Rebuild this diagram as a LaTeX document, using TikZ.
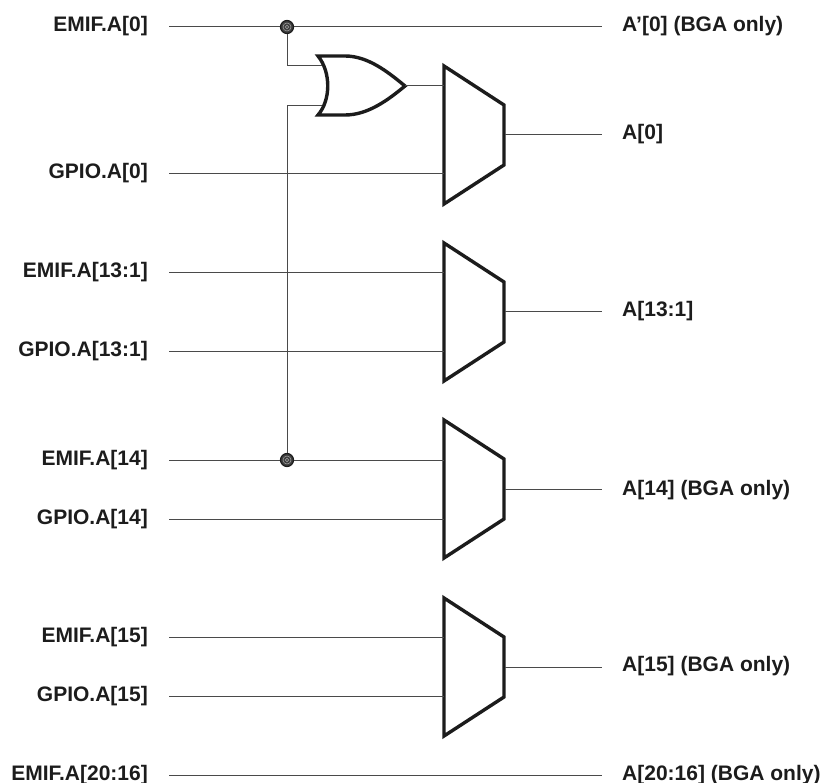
\documentclass[tikz,border=0pt]{standalone}
\usepackage{fontspec}
\setmainfont{Liberation Sans}
\definecolor{wire}{HTML}{4A4A4A}
\definecolor{body}{HTML}{1C1C1C}
\tikzset{
    wireline/.style = {draw = wire, line width = 1pt},
    gateline/.style = {draw = body, line width = 3.4pt, line join = miter},
    sig/.style = {font = \bfseries\fontsize{21}{24}\selectfont, text = body, text height = 15pt, text depth = 5pt, inner ysep = 0pt},
    inlabel/.style = {sig, anchor = east, inner xsep = 21pt},
    outlabel/.style = {sig, anchor = west, inner xsep = 20pt},
    junction/.style = {circle, draw = body, fill = body!85!white, line width = 1.2pt, minimum size = 13pt, inner sep = 0pt},
    ring/.style = {circle, draw = white!65!black, line width = 0.5pt, inner sep = 0pt}
}
\begin{document}
\begin{tikzpicture}[x=1pt, y=-1pt]
    \useasboundingbox (0,0) rectangle (824,783);
    % signal names
    \node[inlabel] (emif0) at (169,27) {EMIF.A[0]};
    \node[inlabel] (gpio0) at (169,173.5) {GPIO.A[0]};
    \node[inlabel] (emif1) at (169,273) {EMIF.A[13:1]};
    \node[inlabel] (gpio1) at (169,351.5) {GPIO.A[13:1]};
    \node[inlabel] (emif14) at (169,460) {EMIF.A[14]};
    \node[inlabel] (gpio14) at (169,519) {GPIO.A[14]};
    \node[inlabel] (emif15) at (169,637) {EMIF.A[15]};
    \node[inlabel] (gpio15) at (169,696) {GPIO.A[15]};
    \node[inlabel] (emif16) at (169,775) {EMIF.A[20:16]};
    \node[outlabel] (bga0) at (602,27) {A’[0] (BGA only)};
    \node[outlabel] (out0) at (602,135) {A[0]};
    \node[outlabel] (out1) at (602,312) {A[13:1]};
    \node[outlabel] (out14) at (602,490) {A[14] (BGA only)};
    \node[outlabel] (out15) at (602,666) {A[15] (BGA only)};
    \node[outlabel] (out16) at (602,775) {A[20:16] (BGA only)};
    % muxes
    \foreach \name/\top in {0/66, 1/243, 14/420, 15/598} {
        \coordinate (mux\name) at (444,\top);
        \coordinate (muxout\name) at (505,\top+69);
        \draw[gateline] (444,\top) -- (504,\top+39) -- (504,\top+99) -- (444,\top+138) -- cycle;
    }
    % or gate
    \coordinate (orin0) at (322,66);
    \coordinate (orin1) at (322,106);
    \coordinate (orout) at (405,86);
    \draw[gateline] (318,56) -- (345,56) .. controls (368,56) and (388,72) .. (orout)
        .. controls (388,100) and (368,115) .. (345,115) -- (318,115)
        .. controls (331,100) and (331,72) .. cycle;
    % wires
    \begin{scope}[wireline]
        \draw (emif0) -- (bga0);
        \draw (emif16) -- (out16);
        \foreach \name in {0,1,14,15} {
            \draw (gpio\name.east) -- (gpio\name.east -| mux\name);
            \draw (muxout\name) -- (muxout\name -| out0.west);
        }
        \foreach \name in {1,14,15} {
            \draw (emif\name.east) -- (emif\name.east -| mux\name);
        }
        \draw (orout) -- (orout -| mux0);
    \end{scope}
    \coordinate (tap) at (287,0);
    \node[junction] (dot0) at (emif0.east -| tap) {};
    \node[junction] (dot14) at (emif14.east -| tap) {};
    \draw[wireline] (dot0) |- (orin0);
    \draw[wireline] (dot14) |- (orin1);
    \foreach \name in {0,14} {
        \node[ring, minimum size = 8pt] (outer\name) at (dot\name) {};
        \node[ring, minimum size = 3.5pt] (inner\name) at (dot\name) {};
    }
\end{tikzpicture}
\end{document}
